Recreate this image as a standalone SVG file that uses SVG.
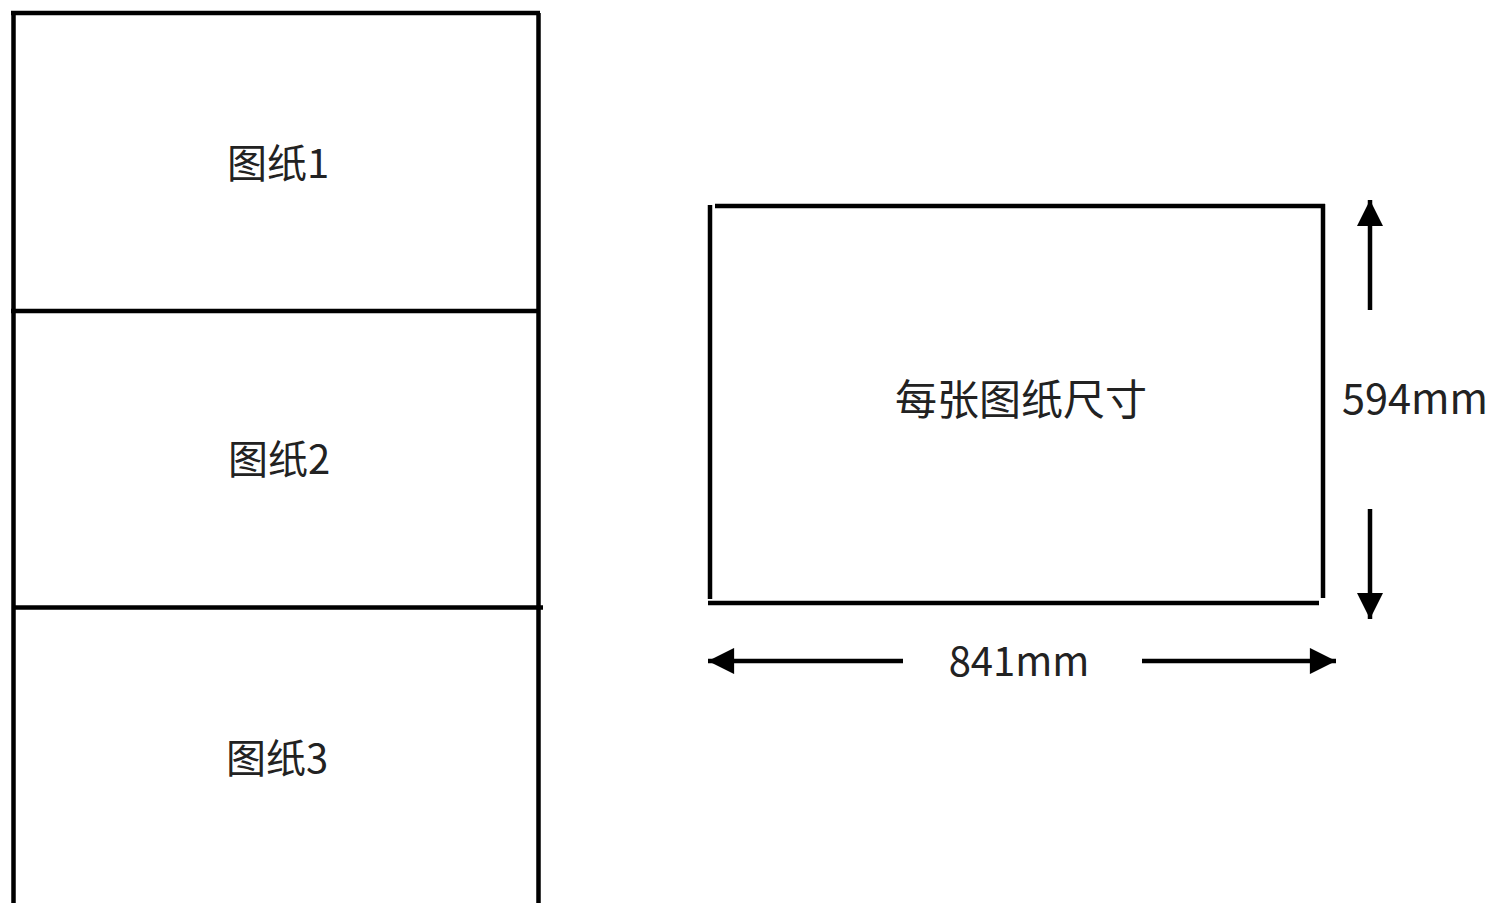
<svg xmlns="http://www.w3.org/2000/svg" width="1493" height="903" viewBox="0 0 1493 903">
<defs>
<style>
.ln{stroke:#000;stroke-width:4.5;fill:none}
.t{font-family:"Noto Sans CJK SC","Liberation Sans",sans-serif;font-size:40px;fill:#222;text-anchor:middle}
</style>
<marker id="ah" viewBox="0 0 10 10" refX="10" refY="5" markerWidth="6" markerHeight="5.8" markerUnits="strokeWidth" orient="auto"><path d="M0,0L10,5L0,10z" fill="#000"/></marker>
</defs>
<rect width="1493" height="903" fill="#fff"/>
<g id="sheets">
<path class="ln" d="M11,13H540M13.5,11V903M538.5,13V903"/>
</g>
<g id="sheet1"><text class="t" x="278" y="178">图纸1</text></g>
<g id="sheet2"><path class="ln" d="M11,311H540"/><text class="t" x="279" y="474">图纸2</text></g>
<g id="sheet3"><path class="ln" d="M13,607.5H543"/><text class="t" x="277" y="773">图纸3</text></g>
<g id="size">
<path class="ln" d="M715,206H1325M1323,204V598M710,205V599M708,603H1319"/>
<text class="t" x="1021" y="415" style="font-size:42px">每张图纸尺寸</text>
</g>
<g id="connectors">
<path class="ln" d="M1370,310V200" marker-end="url(#ah)"/>
<path class="ln" d="M1370,509V619" marker-end="url(#ah)"/>
<path class="ln" d="M903,661H708" marker-end="url(#ah)"/>
<path class="ln" d="M1142,661H1336" marker-end="url(#ah)"/>
</g>
<g id="labels">
<text class="t" x="1415" y="414" style="font-size:41.5px">594mm</text>
<text class="t" x="1019" y="676">841mm</text>
</g>
</svg>
